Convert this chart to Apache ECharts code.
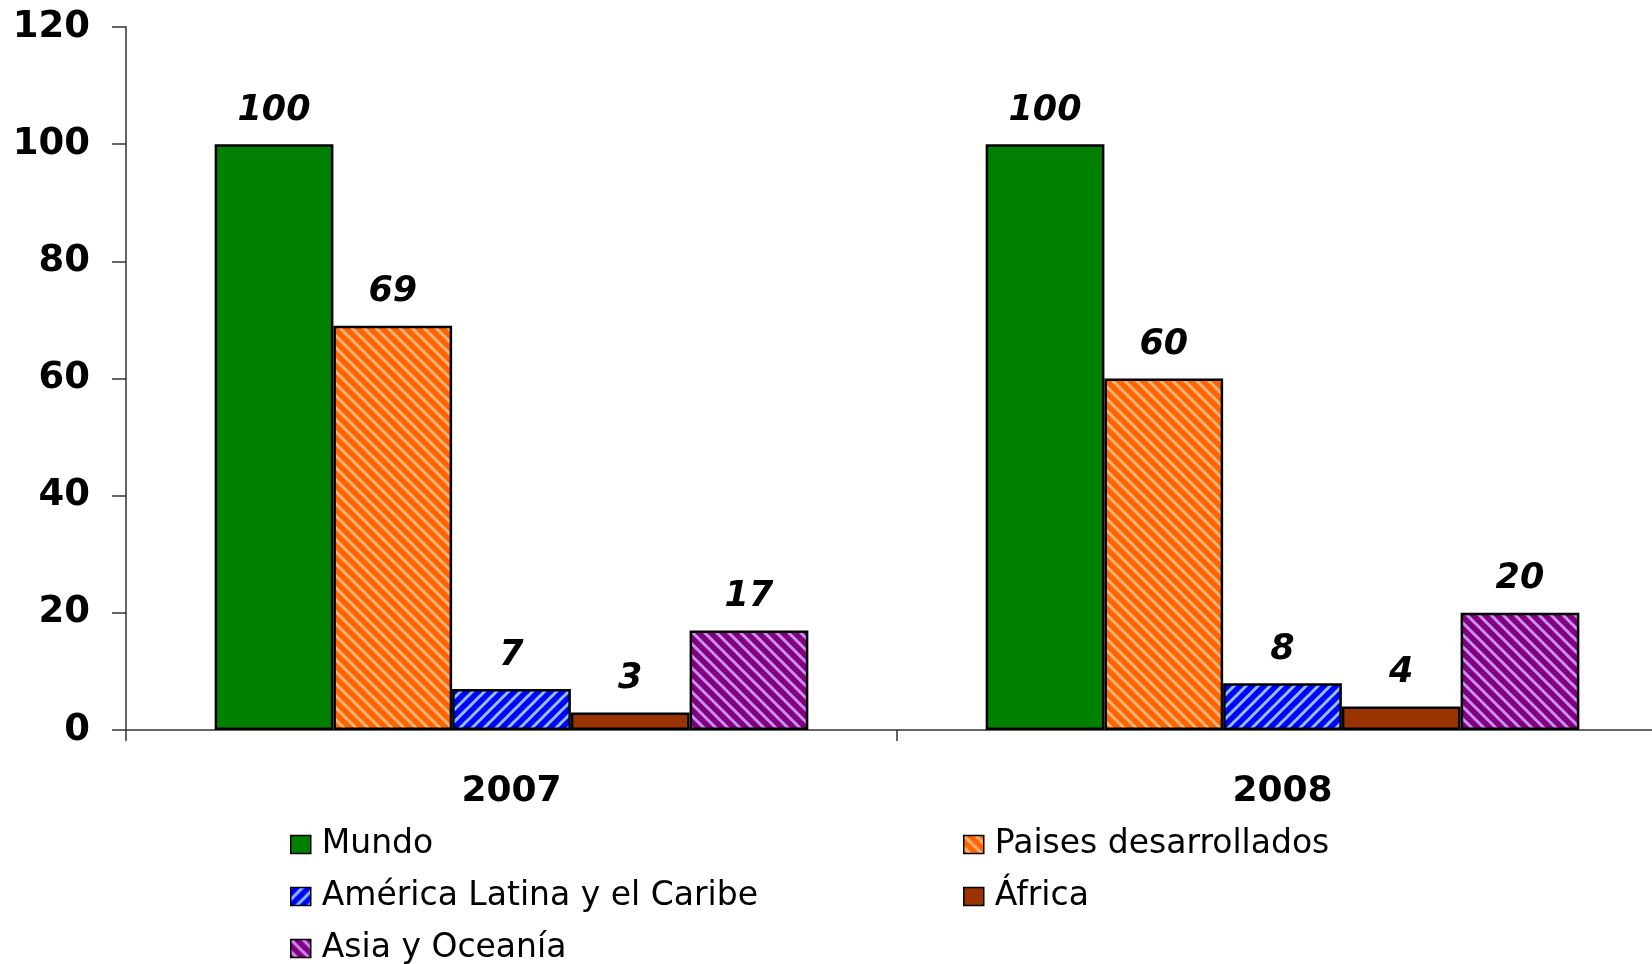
<!DOCTYPE html>
<html>
<head>
<meta charset="utf-8">
<script src="https://cdn.jsdelivr.net/npm/echarts@6/dist/echarts.min.js"></script>
<style>
  html, body { margin: 0; padding: 0; background: #fff; }
  #chart_bar { width: 1652px; height: 964px; }
</style>
</head>
<body>
<div id="chart_bar"></div>
<script>
// Datos
const years = ['2007', '2008'];
const seriesNames = ['Mundo', 'Paises desarrollados', 'América Latina y el Caribe', 'África', 'Asia y Oceanía'];
const mundo = [100, 100];
const paises = [69, 60];
const america = [7, 8];
const africa = [3, 4];
const asia = [17, 20];
const yTicks = [0, 20, 40, 60, 80, 100, 120];

// Rayas diagonales (dir 1 = "\", dir -1 = "/")
function stripes(base, light, dir) {
    const c = document.createElement('canvas');
    const p = 12;
    c.width = p; c.height = p;
    const ctx = c.getContext('2d');
    ctx.fillStyle = base;
    ctx.fillRect(0, 0, p, p);
    ctx.strokeStyle = light;
    ctx.lineWidth = 3;
    for (let k = -2; k <= 2; k++) {
        ctx.beginPath();
        if (dir > 0) {
            ctx.moveTo(k * p - 2, -2);
            ctx.lineTo(k * p + p + 2, p + 2);
        } else {
            ctx.moveTo(k * p - 2, p + 2);
            ctx.lineTo(k * p + p + 2, -2);
        }
        ctx.stroke();
    }
    return { image: c, repeat: 'repeat' };
}

const fills = [
    '#008000',
    stripes('#ff6600', '#ffb27a', 1),
    stripes('#0000ff', '#8cc4ff', -1),
    '#993300',
    stripes('#800080', '#cc8ff0', 1)
];

const labelStyle = {
    show: true,
    position: 'top',
    distance: 16,
    color: '#000',
    fontFamily: 'DejaVu Sans',
    fontWeight: 'bold',
    fontStyle: 'italic',
    fontSize: 35
};

function serie(name, data, color) {
    return {
        name: name,
        type: 'bar',
        data: data,
        barGap: '0%',
        barCategoryGap: '23%',
        itemStyle: { color: color, borderColor: '#000', borderWidth: 2.5 },
        label: labelStyle
    };
}

// Leyenda: una entrada por componente para fijar su posición
const legendPos = [[290, 828], [963, 828], [290, 880], [963, 880], [290, 932]];
const legends = seriesNames.map((n, i) => ({
    left: legendPos[i][0], top: legendPos[i][1], padding: 0,
    itemWidth: 20, itemHeight: 18, icon: 'rect',
    data: [n],
    textStyle: { color: '#000', fontFamily: 'DejaVu Sans', fontSize: 33, lineHeight: 32, padding: [0, 0, 0, 6] },
    itemStyle: { borderColor: '#000', borderWidth: 1.5 }
}));

let chart = echarts.init(document.getElementById('chart_bar'));
chart.setOption({
    animation: false,
    backgroundColor: '#fff',
    // el área de trazado sigue un poco más allá del borde derecho
    grid: { left: 126, width: 1542, top: 27, bottom: 234, outerBoundsMode: 'none' },
    legend: legends,
    xAxis: {
        type: 'category',
        data: years,
        axisLine: { lineStyle: { color: '#333', width: 1.5 } },
        axisTick: { show: true, length: 11, lineStyle: { color: '#333', width: 1.5 } },
        axisLabel: { color: '#000', fontFamily: 'DejaVu Sans', fontWeight: 'bold', fontSize: 36, margin: 44 }
    },
    yAxis: {
        type: 'value',
        min: yTicks[0],
        max: yTicks[yTicks.length - 1],
        interval: 20,
        splitLine: { show: false },
        axisLine: { show: true, lineStyle: { color: '#333', width: 1.5 } },
        axisTick: { show: true, length: 14, lineStyle: { color: '#333', width: 1.5 } },
        axisLabel: { color: '#000', fontFamily: 'DejaVu Sans', fontWeight: 'bold', fontSize: 37, margin: 36 }
    },
    series: [
        serie(seriesNames[0], mundo, fills[0]),
        serie(seriesNames[1], paises, fills[1]),
        serie(seriesNames[2], america, fills[2]),
        serie(seriesNames[3], africa, fills[3]),
        serie(seriesNames[4], asia, fills[4])
    ]
});
</script>
</body>
</html>
